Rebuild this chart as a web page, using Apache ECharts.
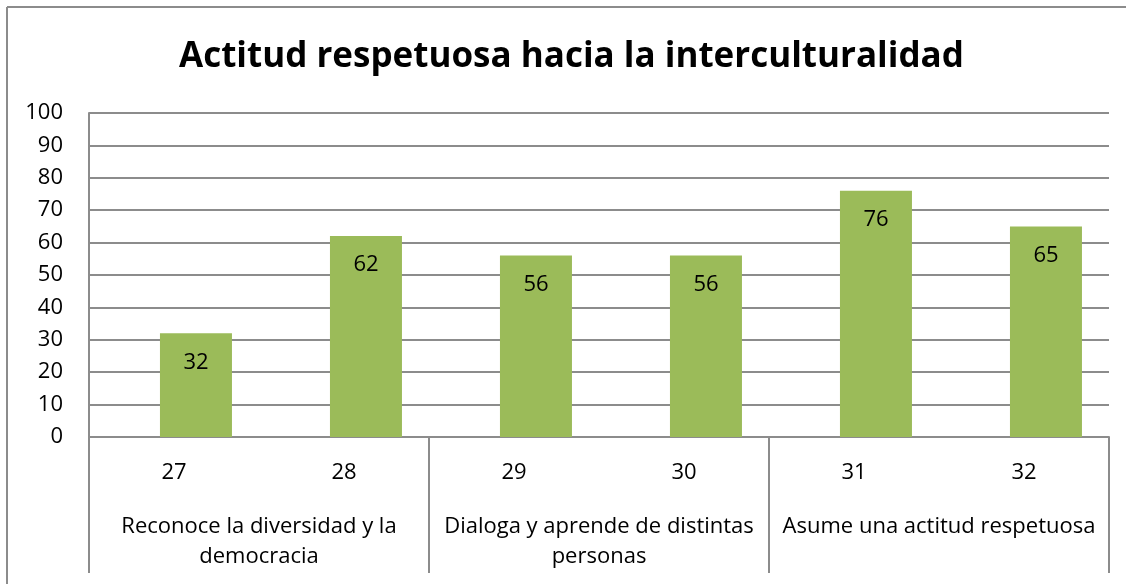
<!DOCTYPE html>
<html>
<head>
<meta charset="utf-8">
<script src="https://cdn.jsdelivr.net/npm/echarts@6/dist/echarts.min.js"></script>
<style>
  html, body { margin: 0; padding: 0; background: #fff; }
  #chart { width: 1126px; height: 584px; }
</style>
</head>
<body>
<div id="chart"></div>
<script>
// data
const items = ['27', '28', '29', '30', '31', '32'];
const values = [32, 62, 56, 56, 76, 65];
const emptySeries = [null, null, null, null, null, null]; // blank series that pushes the bars right, like the original
const groups = ['Reconoce la diversidad y la\ndemocracia', 'Dialoga y aprende de distintas\npersonas', 'Asume una actitud respetuosa'];
const yTicks = [0, 10, 20, 30, 40, 50, 60, 70, 80, 90, 100];

const font = '"Open Sans", sans-serif';
let myChart = echarts.init(document.getElementById('chart'));
myChart.setOption({
    backgroundColor: '#fff',
    animation: false,
    title: {
        text: 'Actitud respetuosa hacia la interculturalidad',
        left: 174,
        top: 35,
        textStyle: { fontFamily: font, fontSize: 35, fontWeight: 'bold', color: '#000' }
    },
    grid: { left: 89, right: 17, top: 113, bottom: 147 },
    xAxis: [
        {
            type: 'category',
            data: items,
            axisLine: { lineStyle: { color: '#8c8c8c', width: 2 } },
            axisTick: { show: false },
            axisLabel: { margin: 25, fontFamily: font, fontSize: 22, color: '#000' }
        },
        {
            type: 'category',
            data: groups,
            position: 'bottom',
            axisLine: { show: false },
            axisTick: { show: true, interval: 0, length: 136, lineStyle: { color: '#8c8c8c', width: 2 } },
            axisLabel: { margin: 75, interval: 0, fontFamily: font, fontSize: 22, lineHeight: 30, color: '#000' }
        }
    ],
    yAxis: {
        type: 'value',
        min: yTicks[0],
        max: yTicks[yTicks.length - 1],
        interval: 10,
        axisLine: { show: true, lineStyle: { color: '#8c8c8c', width: 2 } },
        axisTick: { show: false },
        axisLabel: { margin: 26, fontFamily: font, fontSize: 22, color: '#000' },
        splitLine: { lineStyle: { color: '#8c8c8c', width: 2 } }
    },
    series: [
        {
            type: 'bar',
            data: emptySeries,
            barWidth: 72,
            barGap: '-39%'
        },
        {
            type: 'bar',
            data: values,
            barWidth: 72,
            barGap: '-39%',
            itemStyle: { color: '#9bbb59' },
            label: {
                show: true,
                position: 'insideTop',
                distance: 18,
                fontFamily: font,
                fontSize: 22,
                color: '#000'
            }
        }
    ],
    graphic: [
        { type: 'line', shape: { x1: 7, y1: 7, x2: 1126, y2: 7 }, style: { stroke: '#8c8c8c', lineWidth: 2 } },
        { type: 'line', shape: { x1: 7, y1: 7, x2: 7, y2: 584 }, style: { stroke: '#8c8c8c', lineWidth: 2 } }
    ]
});
</script>
</body>
</html>
